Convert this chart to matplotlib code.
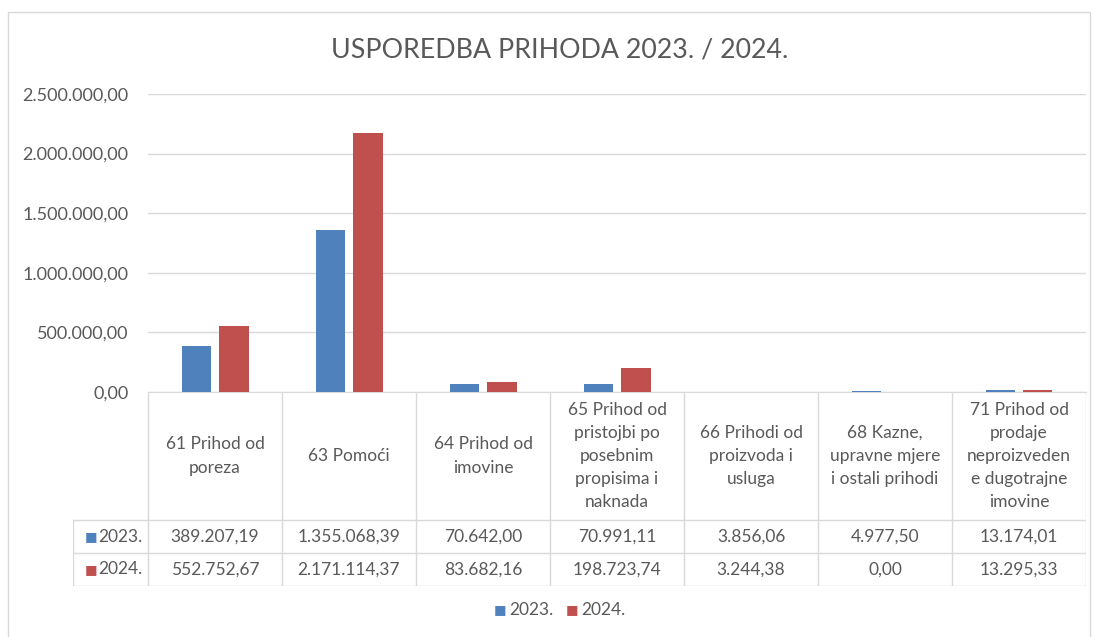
import matplotlib.pyplot as plt
from matplotlib.patches import Rectangle
import numpy as np

plt.rcParams['font.family'] = ['Lato', 'DejaVu Sans']

categories = ["61 Prihod od\nporeza", "63 Pomoći", "64 Prihod od\nimovine",
              "65 Prihod od\npristojbi po\nposebnim\npropisima i\nnaknada",
              "66 Prihodi od\nproizvoda i\nusluga", "68 Kazne,\nupravne mjere\ni ostali prihodi",
              "71 Prihod od\nprodaje\nneproizveden\ne dugotrajne\nimovine"]
series_names = ["2023.", "2024."]
values_2023 = [389207.19, 1355068.39, 70642.00, 70991.11, 3856.06, 4977.50, 13174.01]
values_2024 = [552752.67, 2171114.37, 83682.16, 198723.74, 3244.38, 0.00, 13295.33]
yticks = [0, 500000, 1000000, 1500000, 2000000, 2500000]

colors = ["#4f81bd", "#c0504d"]
txt = "#595959"
grid = "#d9d9d9"

def fmt(v):
    s = f"{v:,.2f}"
    return s.replace(",", "X").replace(".", ",").replace("X", ".")

W, H = 1096, 637
fig = plt.figure(figsize=(W / 100, H / 100), dpi=100)

# chart border
fig.patches.append(Rectangle((8 / W, -0.01), (1082 / W), 1 - 12 / H + 0.01,
                             transform=fig.transFigure, fill=False, edgecolor="#d9d9d9", lw=1))

ax = fig.add_axes([148 / W, 1 - 392 / H, (1086 - 148) / W, (392 - 94) / H])
x = np.arange(len(categories))
bw = 0.22
gap = 0.06
ax.bar(x - (bw + gap) / 2, values_2023, bw, color=colors[0], zorder=3)
ax.bar(x + (bw + gap) / 2, values_2024, bw, color=colors[1], zorder=3)
ax.set_xlim(-0.5, len(categories) - 0.5)
ax.set_ylim(0, 2500000)
ax.set_yticks(yticks)
ax.set_yticklabels([fmt(v) for v in yticks], fontsize=13, color=txt)
ax.yaxis.grid(True, color=grid, lw=1, zorder=0)
ax.set_xticks([])
for s in ["top", "right", "left"]:
    ax.spines[s].set_visible(False)
ax.spines["bottom"].set_color(grid)
ax.tick_params(axis="y", length=0, pad=14)

fig.text(560 / W, 1 - 50 / H, "USPOREDBA PRIHODA 2023. / 2024.", ha="center", va="center",
         fontsize=19.3, color=txt)

# data table
tax = fig.add_axes([73 / W, 1 - 586 / H, (1086 - 73) / W, (586 - 392) / H])
lab_w = 75 / 134
hdr = 128 / 33
n = len(categories)
tax.set_xlim(-0.5 - lab_w, n - 0.5)
tax.set_ylim(hdr + 2, 0)
tax.axis("off")
lk = dict(color=grid, lw=1)
for j in range(n + 1):
    tax.plot([j - 0.5, j - 0.5], [0, hdr + 2], **lk)
for yy in [hdr, hdr + 1, hdr + 2]:
    tax.plot([-0.5 - lab_w, n - 0.5], [yy, yy], **lk)
tax.plot([-0.5 - lab_w] * 2, [hdr, hdr + 2], **lk)
for j, c in enumerate(categories):
    tax.text(j, hdr / 2, c, ha="center", va="center", fontsize=12.5, color=txt, linespacing=1.55)
for r, (name, vals) in enumerate(zip(series_names, [values_2023, values_2024])):
    yc = hdr + r + 0.5
    tax.text(-0.5 - lab_w + 0.085, yc, "■", ha="left", va="center", fontsize=9.5,
             color=colors[r], family="DejaVu Sans")
    tax.text(-0.5 - 0.04, yc, name, ha="right", va="center", fontsize=12.5, color=txt)
    for j, v in enumerate(vals):
        tax.text(j, yc, fmt(v), ha="center", va="center", fontsize=12.5, color=txt)

# legend
fig.text(494 / W, 1 - 610 / H, "■", ha="left", va="center", fontsize=9.5, color=colors[0], family="DejaVu Sans")
fig.text(509 / W, 1 - 610 / H, series_names[0], ha="left", va="center", fontsize=12.5, color=txt)
fig.text(566 / W, 1 - 610 / H, "■", ha="left", va="center", fontsize=9.5, color=colors[1], family="DejaVu Sans")
fig.text(581 / W, 1 - 610 / H, series_names[1], ha="left", va="center", fontsize=12.5, color=txt)

fig.savefig("out.png", dpi=100)
